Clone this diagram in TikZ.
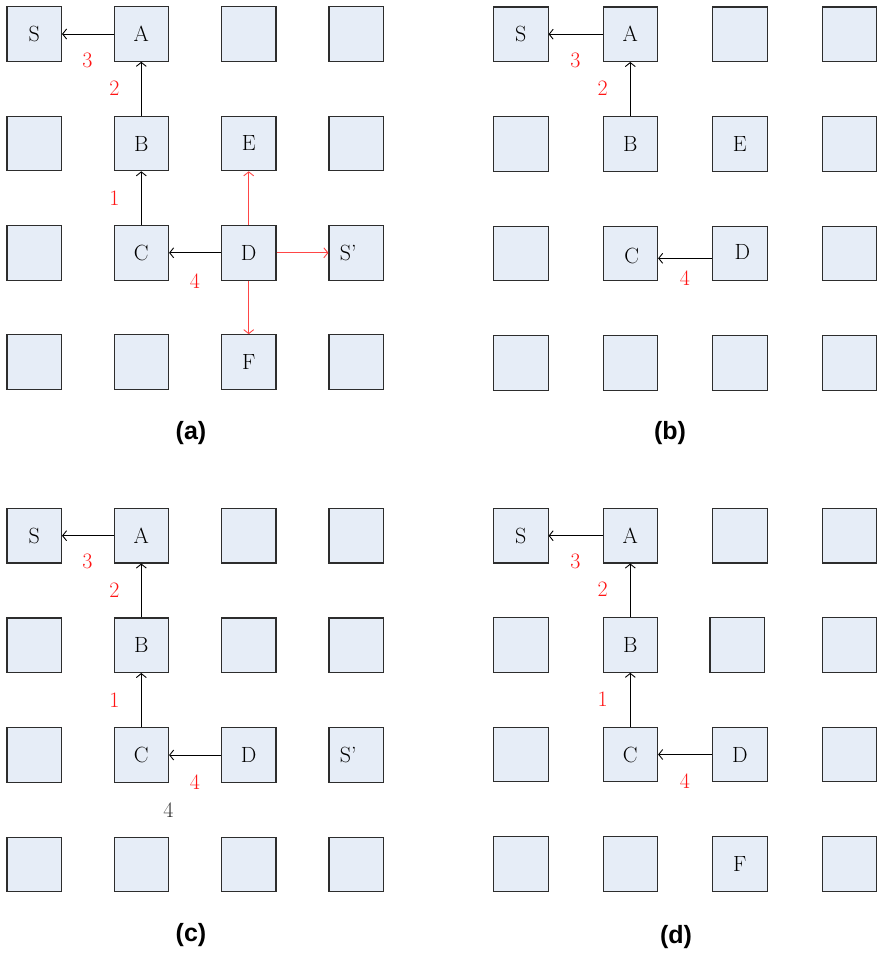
\documentclass[tikz,border=0pt]{standalone}
\usepackage{fontspec}
\newfontfamily\labfont{Liberation Sans}
\usetikzlibrary{arrows.meta}
\definecolor{cellfill}{RGB}{230,237,247}
\definecolor{celldraw}{RGB}{45,45,45}
\definecolor{numred}{RGB}{255,20,20}
\definecolor{arrred}{RGB}{255,70,70}
\definecolor{graytxt}{RGB}{50,50,50}
\begin{document}
\begin{tikzpicture}[x=1pt,y=-1pt,
  cell/.style={draw=celldraw, fill=cellfill, line width=1.1pt, minimum size=54.5pt, inner sep=0pt},
  txt/.style={font=\fontsize{22}{22}\selectfont, inner sep=0pt},
  num/.style={txt, text=numred},
  arr/.style={line width=0.9pt, -{Straight Barb[length=4pt,width=10pt]}},
  redarr/.style={arr, draw=arrred},
  panel/.style={font=\labfont\bfseries\fontsize{25}{25}\selectfont, inner sep=0pt}]
\useasboundingbox (0,0) rectangle (880,953);
% ---------- panel (a)
\foreach \r/\y in {1/34,2/143.5,3/252.8,4/362}
  \foreach \c/\x in {1/34.2,2/141.3,3/248.7,4/356.2}
    \node[cell] (a\r\c) at (\x,\y) {};
\node[txt] (aS) at (a11) {S};
\node[txt] (aA) at (a12) {A};
\node[txt] (aB) at (a22) {B};
\node[txt] (aE) at (a23) {E};
\node[txt] (aC) at (a32) {C};
\node[txt] (aD) at (a33) {D};
\node[txt] (aSp) at ([xshift=-8pt]a34.center) {S’};
\node[txt] (aF) at (a43) {F};
\draw[arr] (a12) -- (a11);
\draw[arr] (a22) -- (a12);
\draw[arr] (a32) -- (a22);
\draw[arr] (a33) -- (a32);
\draw[redarr] (a33) -- (a23);
\draw[redarr] (a33) -- (a34);
\draw[redarr] (a33) -- (a43);
\node[num] (an3) at (87.3,60.7) {3};
\node[num] (an2) at (114.3,88.3) {2};
\node[num] (an1) at (114.3,198.3) {1};
\node[num] (an4) at (195,280.7) {4};
\node[panel] (la) at (191,433) {(a)};
% ---------- panel (b)
\foreach \r/\y in {1/34.2,2/143.8,3/253.3,4/362.8}
  \foreach \c/\x in {1/520.8,2/630.3,3/739.8,4/849.5}
    \node[cell] (b\r\c) at (\x,\y) {};
\node[txt] (bS) at (b11) {S};
\node[txt] (bA) at (b12) {A};
\node[txt] (bB) at (b22) {B};
\node[txt] (bE) at (b23) {E};
\node[txt] (bC) at ([xshift=1.5pt,yshift=-3pt]b32.center) {C};
\node[txt] (bD) at ([xshift=2.5pt,yshift=1.5pt]b33.center) {D};
\draw[arr] (b12) -- (b11);
\draw[arr] (b22) -- (b12);
\draw[arr] ([yshift=-5pt]b33.west) -- ([yshift=-5pt]b32.east);
\node[num] (bn3) at (575.3,60.7) {3};
\node[num] (bn2) at (602.7,88.3) {2};
\node[num] (bn4) at (685,278.3) {4};
\node[panel] (lb) at (670,433) {(b)};
% ---------- panel (c)
\foreach \r/\y in {1/535.7,2/645.2,3/755,4/864.5}
  \foreach \c/\x in {1/34.2,2/141.3,3/248.7,4/356.2}
    \node[cell] (c\r\c) at (\x,\y) {};
\node[txt] (cS) at (c11) {S};
\node[txt] (cA) at (c12) {A};
\node[txt] (cB) at (c22) {B};
\node[txt] (cC) at (c32) {C};
\node[txt] (cD) at (c33) {D};
\node[txt] (cSp) at ([xshift=-8pt]c34.center) {S’};
\draw[arr] (c12) -- (c11);
\draw[arr] (c22) -- (c12);
\draw[arr] (c32) -- (c22);
\draw[arr] (c33) -- (c32);
\node[num] (cn3) at (87.3,561.7) {3};
\node[num] (cn2) at (114.3,590) {2};
\node[num] (cn1) at (114.3,700) {1};
\node[num] (cn4) at (195,781.7) {4};
\node[txt, text=graytxt] (cg4) at (168.3,810) {4};
\node[panel] (lc) at (191,935) {(c)};
% ---------- panel (d)
\foreach \r/\y in {1/535.7,2/645,3/754.5,4/863.8}
  \foreach \c/\x in {1/520.8,2/630.3,3/739.8,4/849.5}{
    \pgfmathsetmacro\xx{(\r==2 && \c==3) ? 737.2 : \x}
    \node[cell] (d\r\c) at (\xx,\y) {};
  }
\node[txt] (dS) at (d11) {S};
\node[txt] (dA) at (d12) {A};
\node[txt] (dB) at (d22) {B};
\node[txt] (dC) at (d32) {C};
\node[txt] (dD) at (d33) {D};
\node[txt] (dF) at (d43) {F};
\draw[arr] (d12) -- (d11);
\draw[arr] (d22) -- (d12);
\draw[arr] (d32) -- (d22);
\draw[arr] (d33) -- (d32);
\node[num] (dn3) at (575.3,561.7) {3};
\node[num] (dn2) at (602.7,589.3) {2};
\node[num] (dn1) at (602.7,699) {1};
\node[num] (dn4) at (685,781) {4};
\node[panel] (ld) at (676,937) {(d)};
\end{tikzpicture}
\end{document}
